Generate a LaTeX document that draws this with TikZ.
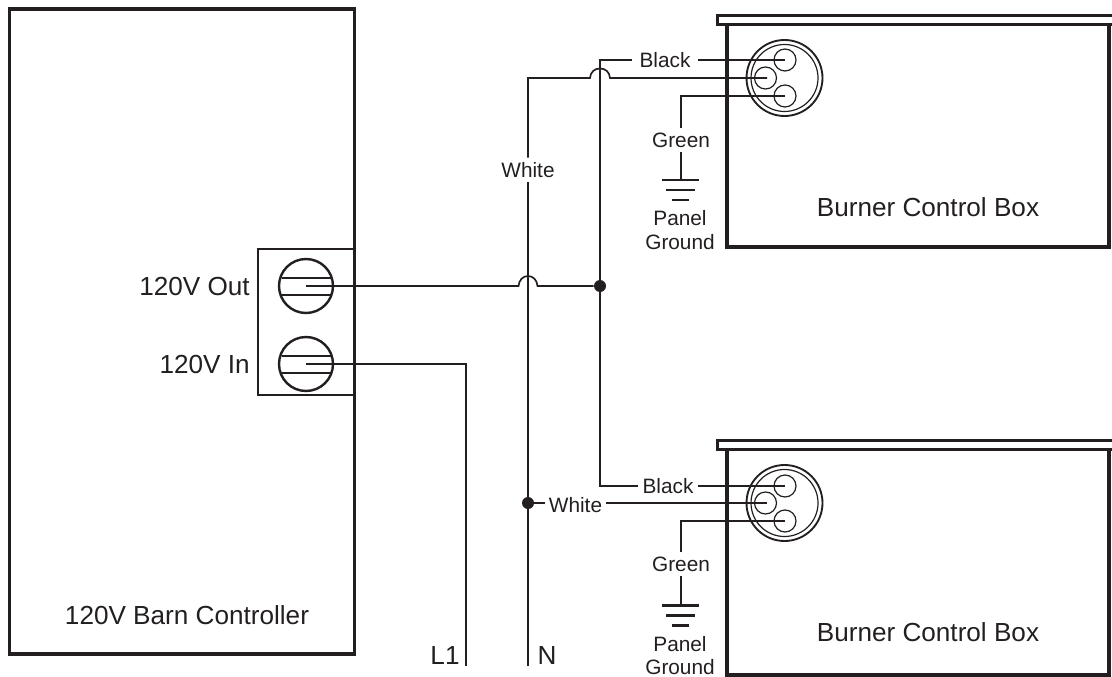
\documentclass[tikz,border=0pt]{standalone}
\usepackage{fontspec}
\setmainfont{Liberation Sans}
\definecolor{ink}{HTML}{231F20}
\newcommand{\smalltxt}{\fontsize{15.6pt}{18pt}\selectfont}
\newcommand{\bigtxt}{\fontsize{19.6pt}{23pt}\selectfont}
\tikzset{
  x=0.75pt,y=-0.75pt,
  every path/.style={color=ink},
  every node/.style={text=ink},
  wire/.style={draw=ink,line width=1.25pt},
  heavy/.style={draw=ink,line width=2.5pt},
  medium/.style={draw=ink,line width=2pt},
  ring/.style={circle,draw=ink,line width=0.9pt,minimum size=#1*0.75pt,inner sep=0pt},
  outer/.style={circle,draw=ink,line width=1.4pt,minimum size=76*0.75pt,inner sep=0pt},
  screw/.style={circle,draw=ink,line width=1.8pt,minimum size=54*0.75pt,inner sep=0pt},
  bar/.style={draw=ink,line width=1.5pt},
  gbar/.style={draw=ink,line width=1.8pt},
  dot/.style={circle,fill=ink,draw=none,minimum size=12*0.75pt,inner sep=0pt},
  wl/.style={font=\smalltxt,text height=11.2pt,text depth=0pt,inner xsep=5.2pt,inner ysep=3.4pt},
  plain/.style={font=\smalltxt,text height=11.2pt,text depth=0pt,inner sep=0pt},
  big/.style={font=\bigtxt,text height=14.2pt,text depth=0pt,inner sep=0pt},
}
\begin{document}
\begin{tikzpicture}
\useasboundingbox (0,0) rectangle (1112,677);

% controller
\node[draw=ink,line width=2.5pt,minimum width=345*0.75pt,minimum height=645*0.75pt,inner sep=0pt] (ctrl) at (182,331.5) {};
\node[draw=ink,line width=2pt,minimum width=97*0.75pt,minimum height=146*0.75pt,inner sep=0pt] (term) at (306.5,322) {};
\node[screw] (tout) at (306,286) {};
\node[screw] (tin) at (306,364) {};
\draw[bar] (281.5,277.5) -- (330.5,277.5) (281.5,294.5) -- (330.5,294.5);
\draw[bar] (281.5,355.5) -- (330.5,355.5) (281.5,372.5) -- (330.5,372.5);
\node[big,anchor=east] (lout) at (250,286) {120V Out};
\node[big,anchor=east] (lin) at (250,364) {120V In};
\node[big] (lctrl) at (187,615) {120V Barn Controller};
\node[big] (ll) at (445,655) {L1};
\node[big] (ln) at (547,655) {N};

% upper burner box
\coordinate (bA) at (727,25);
\draw[heavy] (bA) -- (727,247) -- (1109,247) -- (1109,25);
\draw[medium] (1112,15.5) -- (717.5,15.5) -- (717.5,24.5) -- (1112,24.5);
\node[big] (lb1) at (928,207) {Burner Control Box};
\node[outer] (c1o) at (784.5,78) {};
\node[ring=67] (c1i) at (784.5,78) {};
\node[ring=22] (c1a) at (785,60) {};
\node[ring=22] (c1b) at (765.5,78) {};
\node[ring=22] (c1c) at (785,96) {};

% lower burner box
\coordinate (cA) at (727,450);
\draw[heavy] (cA) -- (727,675) -- (1109,675) -- (1109,450);
\draw[medium] (1112,440.5) -- (717.5,440.5) -- (717.5,449.5) -- (1112,449.5);
\node[big] (lb2) at (928,632) {Burner Control Box};
\node[outer] (c2o) at (784.5,503) {};
\node[ring=67] (c2i) at (784.5,503) {};
\node[ring=22] (c2a) at (785,486) {};
\node[ring=22] (c2b) at (765.5,503) {};
\node[ring=22] (c2c) at (785,521) {};

% junctions and ends
\node[dot] (j1) at (600,286) {};
\node[dot] (j2) at (528,503) {};
\coordinate (l1end) at (466,666);
\coordinate (nend) at (528,666);
\coordinate (ntop) at (528,78);
\coordinate (btop) at (600,60);
\coordinate (bbot) at (600,486);
\coordinate (w2end) at (767,503);

% labels on wires
\node[wl] (w1) at (528,170) {White};
\node[wl] (k1) at (665,60) {Black};
\node[wl] (g1) at (681,140) {Green};
\node[wl,inner xsep=3.2pt] (k2) at (668,486) {Black};
\node[wl,inner xsep=2.5pt] (w2) at (575.5,505) {White};
\node[wl] (g2) at (681,564) {Green};
\node[plain] (p1) at (680,218) {Panel};
\node[plain] (q1) at (680,242) {Ground};
\node[plain] (p2) at (680,644) {Panel};
\node[plain] (q2) at (680,667) {Ground};

% wires
\draw[wire] (tout.center) -- (518.5,286) .. controls (519,280) and (523,276) .. (528,276) .. controls (533,276) and (537,280) .. (537.5,286) -- (j1);
\draw[wire] (tin.center) -| (l1end);
\draw[wire] (nend) -- (j2);
\draw[wire] (j2) -- (w1.south);
\draw[wire] (w1.north) -- (ntop) -- (590,78) .. controls (590.5,72) and (594.5,68.5) .. (600,68.5) .. controls (605.5,68.5) and (609.5,72) .. (610,78) -- (767,78);
\draw[wire] (j1) -- (btop) -- (k1.west);
\draw[wire] (k1.east) -- (c1a.center);
\draw[wire] (c1c.center) -| (g1.north);
\draw[wire] (j1) -- (bbot) -- (k2.west);
\draw[wire] (k2.east) -- (c2a.center);
\draw[wire] (j2) -- (w2.west |- j2);
\draw[wire] (w2.east |- j2) -- (w2end);
\draw[wire] (c2c.center) -| (g2.north);

% grounds
\coordinate (g1t) at (681,180);
\coordinate (g2t) at (681,605);
\draw[wire] (g1.south) -- (g1t);
\draw[wire] (g2.south) -- (g2t);
\draw[gbar] (662,180) -- (699,180) (666,190) -- (695,190) (672,200) -- (689,200);
\draw[gbar] (662,605.5) -- (699,605.5) (666,615.5) -- (695,615.5) (672,625.5) -- (689,625.5);
\end{tikzpicture}
\end{document}
